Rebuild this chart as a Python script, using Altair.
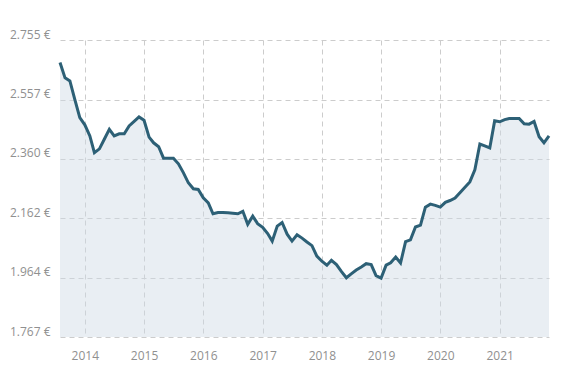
import altair as alt
import pandas as pd

start_month = "2013-08-01"
prices = [
    2680, 2629, 2619, 2556, 2497, 2473, 2436, 2380, 2393, 2425,
    2458, 2436, 2443, 2443, 2469, 2484, 2499, 2488, 2432, 2413,
    2400, 2362, 2362, 2362, 2343, 2313, 2280, 2260, 2258, 2230,
    2213, 2177, 2181, 2181, 2180, 2179, 2177, 2185, 2142, 2169,
    2144, 2132, 2111, 2086, 2136, 2148, 2109, 2086, 2107, 2096,
    2083, 2071, 2036, 2019, 2006, 2022, 2008, 1985, 1964, 1977,
    1990, 2000, 2011, 2008, 1971, 1963, 2006, 2014, 2033, 2013,
    2084, 2090, 2133, 2139, 2199, 2209, 2205, 2199, 2215, 2221,
    2229, 2247, 2265, 2283, 2323, 2409, 2403, 2396, 2486, 2483,
    2490, 2494, 2494, 2494, 2476, 2475, 2484, 2433, 2413, 2436,
]
y_ticks = [1767, 1964, 2162, 2360, 2557, 2755]
year_ticks = [2014, 2015, 2016, 2017, 2018, 2019, 2020, 2021]

dates = pd.date_range(start_month, periods=len(prices), freq="MS")
df = pd.DataFrame({"date": dates.strftime("%Y-%m-%dT00:00:00"), "price": prices})

x_enc = alt.X(
    "date:T",
    scale=alt.Scale(domain=[df["date"].iloc[0], df["date"].iloc[-1]]),
    axis=alt.Axis(
        values=[alt.DateTime(year=y, month=1, date=1) for y in year_ticks],
        format="%Y",
        title=None,
        domain=False,
        ticks=False,
        labelPadding=13,
        labelFontSize=12,
        labelColor="#909090",
        labelFont="Open Sans",
        gridDash=[5, 4],
        gridColor="#cccccc",
    ),
)
y_enc = alt.Y(
    "price:Q",
    scale=alt.Scale(domain=[y_ticks[0], y_ticks[-1]], nice=False, zero=False),
    axis=alt.Axis(
        values=y_ticks,
        labelExpr="replace(format(datum.value, ',.0f'), ',', '.') + ' €'",
        title=None,
        domain=False,
        ticks=False,
        labelPadding=10,
        labelOffset=-6,
        labelFontSize=12,
        labelColor="#909090",
        labelFont="Open Sans",
        gridDash=[5, 4],
        gridColor="#cccccc",
    ),
)

base = alt.Chart(df)
area = base.mark_area(color="#ced9e4", opacity=0.45).encode(
    x=x_enc, y=y_enc, y2=alt.datum(y_ticks[0])
)
line = base.mark_line(color="#2d6076", strokeWidth=3).encode(x=x_enc, y=y_enc)

chart = (
    alt.layer(area, line)
    .properties(
        width=489,
        height=297,
        autosize=alt.AutoSizeParams(type="none"),
        padding={"left": 52, "top": 32, "right": 20, "bottom": 40},
    )
    .configure_view(stroke=None)
)

chart.save("out.html", embed_options={"renderer": "svg", "actions": False})
